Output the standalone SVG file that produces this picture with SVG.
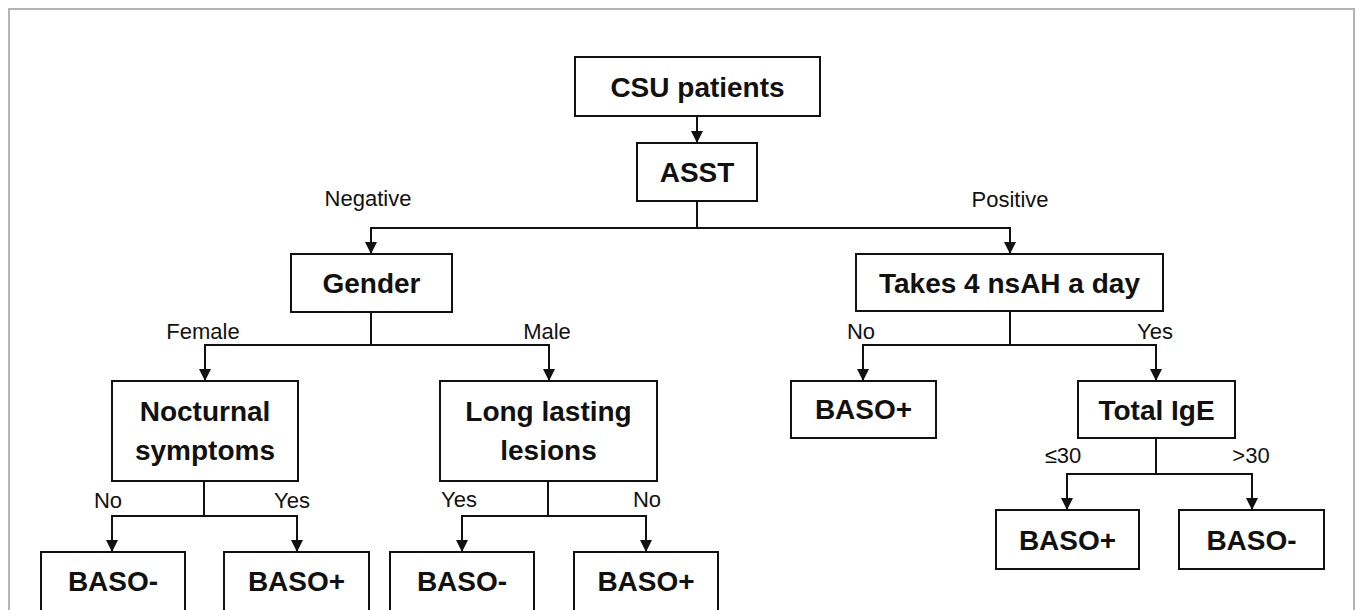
<svg xmlns="http://www.w3.org/2000/svg" width="1357" height="610" viewBox="0 0 1357 610">
<style>
.box{fill:#fff;stroke:#111;stroke-width:2}
.nt{font-family:"Liberation Sans",Arial,sans-serif;font-weight:bold;font-size:28px;fill:#111;text-anchor:middle}
.lb{font-family:"Liberation Sans",Arial,sans-serif;font-size:22px;fill:#111;text-anchor:middle}
.cn{fill:none;stroke:#111;stroke-width:2;marker-end:url(#arr)}
.tr{fill:none;stroke:#111;stroke-width:2}
</style>
<defs>
<marker id="arr" viewBox="0 0 12 12" refX="12" refY="6" markerWidth="12" markerHeight="12" markerUnits="userSpaceOnUse" orient="auto">
<path d="M0,0 L12,6 L0,12 z" fill="#111"/>
</marker>
</defs>
<rect x="0" y="0" width="1357" height="610" fill="#fff"/>
<rect x="9" y="9" width="1345" height="620" fill="none" stroke="#b4b4b4" stroke-width="2"/>

<g id="connectors">
<path class="cn" d="M697,116 V143"/>
<path class="cn" d="M697,201 V228 H371 V254"/>
<path class="cn" d="M697,228 H1010 V254"/>
<path class="cn" d="M371,312 V345 H205 V381"/>
<path class="cn" d="M371,345 H549 V381"/>
<path class="cn" d="M204,481 V516 H112 V552"/>
<path class="cn" d="M204,516 H297 V552"/>
<path class="cn" d="M548,481 V516 H462 V552"/>
<path class="cn" d="M548,516 H646 V552"/>
<path class="cn" d="M1010,311 V345 H863 V381"/>
<path class="cn" d="M1010,345 H1156 V381"/>
<path class="cn" d="M1156,438 V474 H1067 V510"/>
<path class="cn" d="M1156,474 H1252 V510"/>
</g>

<g id="edge-labels">
<text class="lb" x="368" y="206">Negative</text>
<text class="lb" x="1010" y="207">Positive</text>
<text class="lb" x="203" y="339">Female</text>
<text class="lb" x="547" y="339">Male</text>
<text class="lb" x="861" y="339">No</text>
<text class="lb" x="1155" y="339">Yes</text>
<text class="lb" x="108" y="508">No</text>
<text class="lb" x="292" y="508">Yes</text>
<text class="lb" x="459" y="507">Yes</text>
<text class="lb" x="647" y="507">No</text>
<text class="lb" x="1063" y="463">≤30</text>
<text class="lb" x="1251" y="463">&gt;30</text>
</g>

<g id="n-csu">
<rect class="box" x="575" y="57" width="245" height="59"/>
<text class="nt" x="697.5" y="97">CSU patients</text>
</g>
<g id="n-asst">
<rect class="box" x="637" y="143" width="120" height="58"/>
<text class="nt" x="697" y="182">ASST</text>
</g>
<g id="n-gender">
<rect class="box" x="291" y="254" width="161" height="58"/>
<text class="nt" x="371.5" y="293">Gender</text>
</g>
<g id="n-takes">
<rect class="box" x="856" y="254" width="307" height="57"/>
<text class="nt" x="1009.5" y="293">Takes 4 nsAH a day</text>
</g>
<g id="n-nocturnal">
<rect class="box" x="112" y="381" width="186" height="100"/>
<text class="nt" x="205" y="421">Nocturnal</text>
<text class="nt" x="205" y="460">symptoms</text>
</g>
<g id="n-long">
<rect class="box" x="440" y="381" width="217" height="100"/>
<text class="nt" x="548.5" y="421">Long lasting</text>
<text class="nt" x="548.5" y="460">lesions</text>
</g>
<g id="n-baso-pos-1">
<rect class="box" x="791" y="381" width="145" height="57"/>
<text class="nt" x="863.5" y="419">BASO+</text>
</g>
<g id="n-total-ige">
<rect class="box" x="1078" y="381" width="157" height="57"/>
<text class="nt" x="1156.5" y="420">Total IgE</text>
</g>
<g id="n-baso-neg-2">
<rect class="box" x="41" y="552" width="144" height="70"/>
<text class="nt" x="113" y="591">BASO-</text>
</g>
<g id="n-baso-pos-2">
<rect class="box" x="224" y="552" width="145" height="70"/>
<text class="nt" x="296.5" y="591">BASO+</text>
</g>
<g id="n-baso-neg-3">
<rect class="box" x="390" y="552" width="144" height="70"/>
<text class="nt" x="462" y="591">BASO-</text>
</g>
<g id="n-baso-pos-3">
<rect class="box" x="574" y="552" width="144" height="70"/>
<text class="nt" x="646" y="591">BASO+</text>
</g>
<g id="n-baso-pos-4">
<rect class="box" x="996" y="510" width="143" height="59"/>
<text class="nt" x="1067.5" y="550">BASO+</text>
</g>
<g id="n-baso-neg-5">
<rect class="box" x="1179" y="510" width="145" height="59"/>
<text class="nt" x="1251.5" y="550">BASO-</text>
</g>
</svg>
